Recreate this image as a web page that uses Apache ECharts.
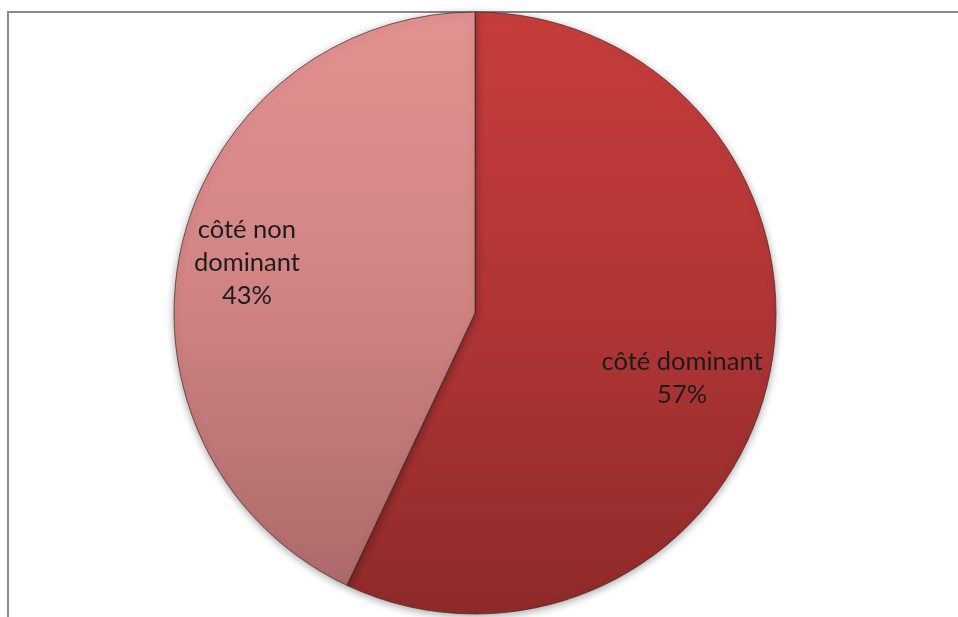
<!DOCTYPE html>
<html>
<head>
<meta charset="utf-8">
<style>
  html, body { margin: 0; padding: 0; background: #ffffff; }
  #chart { width: 958px; height: 617px; }
</style>
<script src="https://cdn.jsdelivr.net/npm/echarts@6/dist/echarts.min.js"></script>
</head>
<body>
<div id="chart"></div>
<script>
// Share of each side
const categories = ['côté dominant', 'côté non dominant'];
const labelText = ['côté dominant', 'côté non\ndominant'];
const values = [57, 43];

// Vertical gradients: [top, middle, bottom]
const sliceColors = [
  ['#c63e3c', '#b03535', '#8f2a2a'],
  ['#e39191', '#d18383', '#ad6a6a']
];

// Label nudges relative to the default inner placement
const labelNudge = [[-32, 12], [11, 3]];

const chart = echarts.init(document.getElementById('chart'), null, { renderer: 'canvas' });

function grad(c) {
  return new echarts.graphic.LinearGradient(0, 0, 0, 1, [
    { offset: 0, color: c[0] },
    { offset: 0.5, color: c[1] },
    { offset: 1, color: c[2] }
  ]);
}

const pieData = categories.map((name, i) => ({
  name: name,
  value: values[i],
  itemStyle: { color: grad(sliceColors[i]) }
}));

const labelData = categories.map((name, i) => ({
  name: name,
  value: values[i],
  label: { formatter: labelText[i] + '\n' + values[i] + '%' }
}));

chart.setOption({
  animation: false,
  graphic: [
    {
      type: 'rect',
      shape: { x: 8, y: 12, width: 980, height: 640 },
      style: { fill: 'none', stroke: '#8a8a8a', lineWidth: 2 },
      z: 0
    }
  ],
  series: [
    {
      type: 'pie',
      center: [475, 313],
      radius: [0, 301],
      startAngle: 90,
      clockwise: true,
      silent: true,
      label: { show: false },
      labelLine: { show: false },
      itemStyle: {
        borderColor: 'rgba(70,35,35,0.7)',
        borderWidth: 1,
        shadowBlur: 8,
        shadowOffsetY: 2,
        shadowColor: 'rgba(0,0,0,0.35)'
      },
      data: pieData,
      z: 2
    },
    {
      // Transparent twin used to place the value labels
      type: 'pie',
      center: [475, 313],
      radius: [0, 484],
      startAngle: 90,
      clockwise: true,
      silent: true,
      itemStyle: { color: 'rgba(0,0,0,0)' },
      label: {
        show: true,
        position: 'inner',
        color: '#1c1c1c',
        fontFamily: 'Lato',
        fontSize: 25.5,
        lineHeight: 33,
        align: 'center'
      },
      labelLine: { show: false },
      labelLayout: function (p) {
        const n = labelNudge[p.dataIndex];
        return { dx: n[0], dy: n[1] };
      },
      data: labelData,
      z: 3
    }
  ]
});
</script>
</body>
</html>
